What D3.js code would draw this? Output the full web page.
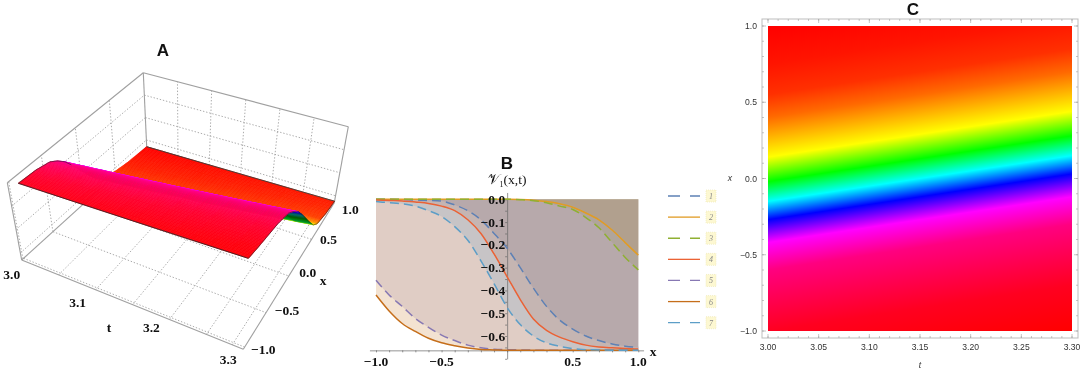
<!DOCTYPE html>
<html>
<head>
<meta charset="utf-8">
<script src="https://cdn.jsdelivr.net/npm/d3@7"></script>
<style>
html, body { margin: 0; padding: 0; background: #fff; }
svg { display: block; filter: blur(0.35px); }
text { fill: #222; }
.title { font-family: "Liberation Sans", sans-serif; font-weight: bold; font-size: 17px; fill: #111; text-anchor: middle; }
.serif { font-family: "Liberation Serif", serif; font-weight: bold; font-size: 13.5px; fill: #111; }
.plain { font-family: "Liberation Sans", sans-serif; font-size: 8.6px; fill: #333; }
</style>
</head>
<body>
<svg id="chart" width="1084" height="371"></svg>
<script>
// colour ramp of panel C, keyed on u = x - (t - 3)
const rampU = [1, 0.75, 0.55, 0.4, 0.14, -0.02, -0.15, -0.27, -0.42, -0.6, -1.0, -1.3];
const rampColor = ["#ff0000", "#ff1400", "#ff3000", "#ff6a00", "#ffff00", "#00ff00", "#00ffff", "#0000ff", "#ff00ff", "#ff0080", "#ff0020", "#ff0000"];
// panel A uses the same hues, squeezed towards the ridge
const surfU = [1, 0.6, 0.4, 0.3, 0.22, 0.14, 0.02, -0.06, -0.15, -0.21, -0.3, -0.45, -0.7, -1.0, -1.3];
const surfColor = ["#ff0000", "#ff2400", "#ff4000", "#ffa000", "#ffff00", "#00c040", "#00ff00", "#00ffff", "#0000ff", "#ff00ff", "#ff0090", "#ff0060", "#ff0030", "#ff0010", "#ff0000"];

// panel A
const tTicksA = [3.0, 3.1, 3.2, 3.3];
const tGridA = [3.05, 3.1, 3.15, 3.2, 3.25];
const xTicksA = [-1.0, -0.5, 0.0, 0.5, 1.0];
const zTicksA = [-0.6, -0.4, -0.2];
const profileU = [-1.3, -1.0, -0.6, -0.4, -0.3, -0.2, -0.1, 0, 0.1, 0.2, 0.3, 0.5, 0.7, 1.0];
const profileV = [-0.05, -0.066, -0.08, -0.105, -0.145, -0.2, -0.28, -0.37, -0.46, -0.54, -0.59, -0.627, -0.647, -0.66];

// panel B
const xGrid = [-1, -0.9, -0.8, -0.7, -0.6, -0.5, -0.4, -0.3, -0.2, -0.1, 0, 0.1, 0.2, 0.3, 0.4, 0.5, 0.6, 0.7, 0.8, 0.9, 1];
const curve1 = [0, 0, -0.001, -0.003, -0.005, -0.008, -0.025, -0.05, -0.09, -0.15, -0.215, -0.3, -0.39, -0.47, -0.53, -0.57, -0.6, -0.62, -0.635, -0.645, -0.65];
const curve2 = [0, 0, 0, 0, 0, 0, 0, 0, 0, 0, 0, -0.001, -0.004, -0.01, -0.02, -0.035, -0.06, -0.09, -0.135, -0.19, -0.245];
const curve3 = [0, 0, 0, 0, 0, 0, 0, 0, 0, 0, 0, -0.002, -0.006, -0.015, -0.03, -0.045, -0.08, -0.125, -0.19, -0.255, -0.31];
const curve4 = [-0.003, -0.005, -0.007, -0.012, -0.018, -0.03, -0.05, -0.09, -0.15, -0.24, -0.34, -0.44, -0.525, -0.575, -0.605, -0.625, -0.64, -0.648, -0.652, -0.655, -0.657];
const curve5 = [-0.355, -0.42, -0.47, -0.523, -0.562, -0.596, -0.62, -0.64, -0.652, -0.658, -0.66, -0.661, -0.662, -0.662, -0.663, -0.663, -0.663, -0.663, -0.663, -0.663, -0.663];
const curve6 = [-0.42, -0.49, -0.545, -0.58, -0.61, -0.63, -0.643, -0.653, -0.659, -0.661, -0.663, -0.663, -0.663, -0.663, -0.663, -0.663, -0.663, -0.663, -0.663, -0.663, -0.663];
const curve7 = [-0.01, -0.015, -0.02, -0.03, -0.05, -0.075, -0.12, -0.18, -0.27, -0.37, -0.475, -0.55, -0.6, -0.63, -0.645, -0.655, -0.66, -0.661, -0.662, -0.662, -0.663];
const curves = [curve1, curve2, curve3, curve4, curve5, curve6, curve7];
const curveColors = ["#5e81b5", "#e19c24", "#8fb032", "#eb6235", "#8778b3", "#c56e1a", "#5d9ec7"];
const curveDashed = [true, false, true, false, true, false, true];
const legendLabels = ["1", "2", "3", "4", "5", "6", "7"];
const xTicksB = [-1.0, -0.5, 0.5, 1.0];
const yTicksB = [0.0, -0.1, -0.2, -0.3, -0.4, -0.5, -0.6];

// panel C
const tTicksC = [3.00, 3.05, 3.10, 3.15, 3.20, 3.25, 3.30];
const xTicksC = [-1.0, -0.5, 0.0, 0.5, 1.0];

const svg = d3.select("#chart");
const minus = s => s.replace("-", "\u2212");
const surfScale = d3.scaleLinear().domain(surfU).range(surfColor);

svg.append("text").attr("class", "title").attr("x", 163).attr("y", 56).text("A");
svg.append("text").attr("class", "title").attr("x", 507).attr("y", 169).text("B");
svg.append("text").attr("class", "title").attr("x", 913).attr("y", 15).text("C");

// ---------- A: box mapped from its 8 corners, trilinear
const tNorm = d3.scaleLinear().domain([3.0, 3.3]).range([0, 1]);
const xNorm = d3.scaleLinear().domain([-1, 1]).range([0, 1]);
const zNorm = d3.scaleLinear().domain([-0.66, 0]).range([0, 1]);
const corner = {
    "000": [21.7, 260], "001": [7.3, 182.7],
    "100": [243.3, 349.3], "101": [240.7, 260],
    "010": [146.7, 146.7], "011": [143.3, 72.7],
    "110": [334.3, 202.7], "111": [348.3, 126.7]
};
function project(t, x, v) {
    const a = tNorm(t), b = xNorm(x), c = zNorm(v);
    const out = [0, 0];
    [0, 1].forEach(i => [0, 1].forEach(j => [0, 1].forEach(k => {
        const w = (i ? a : 1 - a) * (j ? b : 1 - b) * (k ? c : 1 - c);
        const p = corner["" + i + j + k];
        out[0] += w * p[0];
        out[1] += w * p[1];
    })));
    return out;
}
const panelA = svg.append("g");
const lineA = d3.line();
function seg(p, q, cls) {
    panelA.append("path").attr("d", lineA([p, q]))
        .attr("fill", "none")
        .attr("stroke", cls == "grid" ? "#a2a2a2" : "#a0a0a0")
        .attr("stroke-width", cls == "grid" ? 0.9 : 1.1)
        .attr("stroke-dasharray", cls == "grid" ? "1.4 1.8" : null);
}
tGridA.forEach(t => {
    seg(project(t, -1, -0.66), project(t, 1, -0.66), "grid");
    seg(project(t, 1, -0.66), project(t, 1, 0), "grid");
});
xTicksA.slice(1, 4).forEach(x => {
    seg(project(3.0, x, -0.66), project(3.3, x, -0.66), "grid");
    seg(project(3.0, x, -0.66), project(3.0, x, 0), "grid");
});
zTicksA.forEach(v => {
    seg(project(3.0, -1, v), project(3.0, 1, v), "grid");
    seg(project(3.0, 1, v), project(3.3, 1, v), "grid");
});
// dotted lines running just inside the two front floor edges
seg(project(3.0, -0.97, -0.66), project(3.3, -0.97, -0.66), "grid");
seg(project(3.285, -1, -0.66), project(3.285, 1, -0.66), "grid");
seg(project(3.0, -0.98, -0.66), project(3.0, -0.98, 0), "grid");
// box edges, the ones in front of the surface are left out by the original too
[[3.0, 1, -0.66, 3.0, 1, 0], [3.0, -1, -0.66, 3.0, 1, -0.66], [3.0, 1, -0.66, 3.3, 1, -0.66],
 [3.0, -1, 0, 3.0, 1, 0], [3.0, 1, 0, 3.3, 1, 0], [3.3, 1, -0.66, 3.3, 1, 0],
 [3.0, -1, -0.66, 3.0, -1, 0], [3.0, -1, -0.66, 3.3, -1, -0.66], [3.3, -1, -0.66, 3.3, 1, -0.66]]
    .forEach(e => seg(project(e[0], e[1], e[2]), project(e[3], e[4], e[5]), "edge"));

// surface quads, painted from the back edge to the front
const profile = d3.scaleLinear().domain(profileU).range(profileV);
const xStart = -0.86;
const rowEdges = d3.range(0, 101).map(i => 1 - i * (1 - xStart) / 100);
const colEdges = d3.range(0, 13).map(i => 3.0 + i * 0.3 / 12);
const surfV = (t, x) => profile(x - (t - 3));
// shade the steep face the way the lit surface does
const shade = d3.scaleLinear().domain([-0.2, -0.1, 0.02, 0.12, 0.2]).range([0, 0.55, 0.65, 0.25, 0]).clamp(true);
rowEdges.slice(1).forEach((x0, r) => {
    const x1 = rowEdges[r];
    colEdges.slice(1).forEach((t1, c) => {
        const t0 = colEdges[c];
        const u = (x0 + x1) / 2 - ((t0 + t1) / 2 - 3);
        const col = d3.interpolateRgb(surfScale(u), "#000")(shade(u));
        panelA.append("path")
            .attr("d", lineA([[t0, x0], [t1, x0], [t1, x1], [t0, x1]].map(q => project(q[0], q[1], surfV(q[0], q[1])))) + "Z")
            .attr("fill", col).attr("stroke", col).attr("stroke-width", 0.7);
    });
});
// dark outline around the surface
[xStart, 1].forEach(x => {
    panelA.append("path")
        .attr("d", lineA(colEdges.map(t => project(t, x, surfV(t, x)))))
        .attr("fill", "none").attr("stroke", x == 1 ? "#20403c" : "#222").attr("stroke-width", 0.8);
});
[3.0, 3.3].forEach(t => {
    panelA.append("path")
        .attr("d", lineA(rowEdges.filter((x, i) => t == 3.0 ? x < -0.1 : true).map(x => project(t, x, surfV(t, x)))))
        .attr("fill", "none").attr("stroke", "#222").attr("stroke-width", 0.6);
});
const tOffset = [[-10, 15], [-18, 13], [-18, 8], [-15, 11]];
tTicksA.forEach((t, i) => {
    const p = project(t, -1, -0.66);
    panelA.append("text").attr("class", "serif").attr("text-anchor", "middle")
        .attr("x", p[0] + tOffset[i][0]).attr("y", p[1] + tOffset[i][1] + 4).text(d3.format(".1f")(t));
});
const xOffset = [[20, 1], [21, -2], [19, -3], [17, 1], [16, 7]];
xTicksA.forEach((x, i) => {
    const p = project(3.3, x, -0.66);
    panelA.append("text").attr("class", "serif").attr("text-anchor", "middle")
        .attr("x", p[0] + xOffset[i][0]).attr("y", p[1] + xOffset[i][1] + 4).text(minus(d3.format(".1f")(x)));
});
panelA.append("text").attr("class", "serif").attr("x", 109).attr("y", 332).attr("text-anchor", "middle").text("t");
panelA.append("text").attr("class", "serif").attr("x", 323).attr("y", 285).attr("text-anchor", "middle").text("x");

// ---------- B
const xB = d3.scaleLinear().domain([-1, 1]).range([376, 638.3]);
const yB = d3.scaleLinear().domain([0, -0.6]).range([199.3, 336]);
const panelB = svg.append("g");
const rows = xGrid.map((x, i) => i);
curves.forEach((vals, s) => {
    panelB.append("path").datum(rows)
        .attr("d", d3.area().x(i => xB(xGrid[i])).y0(yB(0)).y1(i => yB(vals[i])).curve(d3.curveMonotoneX))
        .attr("fill", curveColors[s]).attr("fill-opacity", 0.2);
});
const axisColor = "#666";
function styleAxis(g) {
    g.selectAll("path,line").attr("stroke", axisColor).attr("stroke-width", 0.7);
    g.selectAll("text").remove();
}
const xAxisDomain = d3.scaleLinear().domain([-1.05, 1.04]).range([xB(-1.05), xB(1.04)]);
panelB.append("g").attr("transform", "translate(0," + yB(-0.66 - 0.003) + ")")
    .call(d3.axisBottom(xAxisDomain).tickValues(d3.range(-10, 11).map(d => d / 10)).tickSize(2).tickSizeOuter(0))
    .call(styleAxis);
const yAxisDomain = d3.scaleLinear().domain([0.03, -0.7]).range([yB(0.03), yB(-0.7)]);
panelB.append("g").attr("transform", "translate(" + xB(0) + ",0)")
    .call(d3.axisLeft(yAxisDomain).tickValues(d3.range(-14, 1).map(d => d / 20)).tickSize(2).tickSizeOuter(0))
    .call(styleAxis);
curves.forEach((vals, s) => {
    panelB.append("path").datum(rows)
        .attr("d", d3.line().x(i => xB(xGrid[i])).y(i => yB(vals[i])).curve(d3.curveMonotoneX))
        .attr("fill", "none").attr("stroke", curveColors[s]).attr("stroke-width", 1.5)
        .attr("stroke-dasharray", curveDashed[s] ? "9 5" : null);
});
yTicksB.forEach(v => {
    panelB.append("text").attr("class", "serif").attr("text-anchor", "end")
        .attr("x", xB(0) - 2).attr("y", yB(v) + 4.5).text(minus(d3.format(".1f")(v)));
});
xTicksB.forEach(x => {
    panelB.append("text").attr("class", "serif").attr("text-anchor", "middle")
        .attr("x", xB(x)).attr("y", 366).text(minus(d3.format(".1f")(x)));
});
panelB.append("text").attr("class", "serif").attr("x", 653).attr("y", 356).attr("text-anchor", "middle").text("x");
const vLabel = panelB.append("text").attr("class", "serif").attr("x", 507).attr("y", 184).attr("text-anchor", "middle").style("font-weight", "normal");
vLabel.append("tspan").style("font-family", "DejaVu Sans, serif").style("font-size", "14px").text("\u{1D4B1}");
vLabel.append("tspan").attr("dy", 3).style("font-size", "8px").text("1");
vLabel.append("tspan").attr("dy", -3).text("(x,t)");

// legend
const legendY = d3.scalePoint().domain(legendLabels).range([196, 322.7]);
legendLabels.forEach((lab, i) => {
    const y = legendY(lab);
    panelB.append("line").attr("x1", 668).attr("x2", 700).attr("y1", y).attr("y2", y)
        .attr("stroke", curveColors[i]).attr("stroke-width", 1.3)
        .attr("stroke-dasharray", curveDashed[i] ? "12 10" : null);
    panelB.append("rect").attr("x", 706).attr("y", y - 6).attr("width", 10).attr("height", 12)
        .attr("fill", "#fdf8d2").attr("stroke", "#ece6b0").attr("stroke-width", 0.6).attr("stroke-dasharray", "1 1");
    panelB.append("text").attr("x", 711).attr("y", y + 3).attr("text-anchor", "middle")
        .style("font-family", "Liberation Serif, serif").style("font-style", "italic").style("font-size", "8px").style("fill", "#888").text(lab);
});

// ---------- C
const tC = d3.scaleLinear().domain([3.0, 3.3]).range([768, 1072]);
const yC = d3.scaleLinear().domain([-1, 1]).range([331, 26]);
const frame = { x0: 762, x1: 1078, y0: 19, y1: 338 };
const panelC = svg.append("g");
const dx = tC(3.3) - tC(3.0), dy = yC(0) - yC(0.3);
const len = Math.sqrt(dx * dx + dy * dy);
const nx = dy / len, ny = dx / len;
const uTop = rampU[0], uBottom = rampU[rampU.length - 1];
const gradLen = (yC(uBottom) - yC(uTop)) * ny;
const grad = svg.append("defs").append("linearGradient").attr("id", "ramp")
    .attr("gradientUnits", "userSpaceOnUse")
    .attr("x1", tC(3.0)).attr("y1", yC(uTop))
    .attr("x2", tC(3.0) + nx * gradLen).attr("y2", yC(uTop) + ny * gradLen);
rampU.forEach((u, i) => {
    grad.append("stop").attr("offset", (uTop - u) / (uTop - uBottom)).attr("stop-color", rampColor[i]);
});
panelC.append("rect").attr("x", tC(3.0)).attr("y", yC(1))
    .attr("width", tC(3.3) - tC(3.0)).attr("height", yC(-1) - yC(1)).attr("fill", "url(#ramp)");
panelC.append("rect").attr("x", frame.x0).attr("y", frame.y0)
    .attr("width", frame.x1 - frame.x0).attr("height", frame.y1 - frame.y0)
    .attr("fill", "none").attr("stroke", "#bdbdbd").attr("stroke-width", 1);
function ticksC(vals, size) {
    vals.forEach(t => {
        [[frame.y0, size], [frame.y1, -size]].forEach(e => {
            panelC.append("line").attr("x1", tC(t)).attr("x2", tC(t)).attr("y1", e[0]).attr("y2", e[0] + e[1])
                .attr("stroke", "#a0a0a0").attr("stroke-width", 0.6);
        });
    });
}
function ticksCy(vals, size) {
    vals.forEach(v => {
        [[frame.x0, size], [frame.x1, -size]].forEach(e => {
            panelC.append("line").attr("y1", yC(v)).attr("y2", yC(v)).attr("x1", e[0]).attr("x2", e[0] + e[1])
                .attr("stroke", "#a0a0a0").attr("stroke-width", 0.6);
        });
    });
}
ticksC(d3.range(0, 31).map(i => 3 + i / 100), 2);
ticksC(tTicksC, 4);
ticksCy(d3.range(-10, 11).map(i => i / 10), 2);
ticksCy(xTicksC, 4);
tTicksC.forEach(t => {
    panelC.append("text").attr("class", "plain").attr("text-anchor", "middle")
        .attr("x", tC(t)).attr("y", 350).text(d3.format(".2f")(t));
});
xTicksC.forEach(v => {
    panelC.append("text").attr("class", "plain").attr("text-anchor", "end")
        .attr("x", 757).attr("y", yC(v) + 3).text(minus(d3.format(".1f")(v)));
});
panelC.append("text").attr("class", "plain").attr("x", 920).attr("y", 368).attr("text-anchor", "middle").style("font-style", "italic").text("t");
panelC.append("text").attr("class", "plain").attr("x", 730).attr("y", 181).attr("text-anchor", "middle").style("font-style", "italic").text("x");
</script>
</body>
</html>
